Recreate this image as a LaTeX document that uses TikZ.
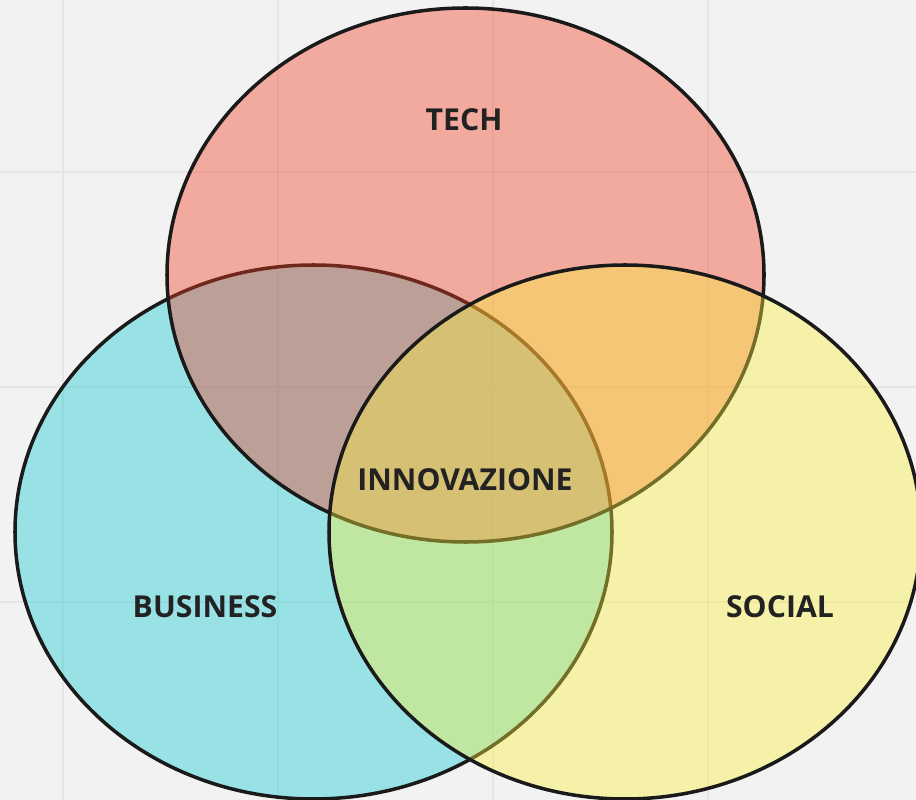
\documentclass[tikz,border=0pt]{standalone}
\usepackage{fontspec}
\setmainfont{Open Sans}
\usetikzlibrary{positioning}
\definecolor{bgcol}{RGB}{242,242,242}
\definecolor{gridcol}{RGB}{229,229,229}
\definecolor{techcol}{RGB}{242,62,35}
\definecolor{businesscol}{RGB}{17,202,212}
\definecolor{socialcol}{RGB}{252,240,60}
\definecolor{edgecol}{RGB}{26,26,26}
\definecolor{textcol}{RGB}{34,34,34}

\begin{document}
\begin{tikzpicture}[x=0.02cm,y=-0.02cm,
    set/.style={draw=edgecol, line width=2pt, fill opacity=0.4},
    lbl/.style={text=textcol, font=\fontsize{17.2}{20}\selectfont\bfseries}]
    % background and frame
    \fill[bgcol] (0,0) rectangle (916,800);
    \clip (0,0) rectangle (916,800);

    % faint grid
    \foreach \x in {63,278,493,708}
        \draw[gridcol, line width=0.8pt] (\x,0) -- (\x,800);
    \foreach \y in {172,387,602}
        \draw[gridcol, line width=0.8pt] (0,\y) -- (916,\y);

    % business set
    \draw[set, fill=businesscol] (313.5,532) ellipse (298.5 and 267);

    % tech set
    \draw[set, fill=techcol] (465.5,275) ellipse (298.5 and 267);

    % social set
    \draw[set, fill=socialcol] (625,532) ellipse (296 and 267);

    % labels
    \node[lbl] (tech) at (464,120) {TECH};
    \node[lbl] (innov) at (465,480) {INNOVAZIONE};
    \node[lbl] (business) at (205,607) {BUSINESS};
    \node[lbl] (social) at (780,607) {SOCIAL};
\end{tikzpicture}
\end{document}
